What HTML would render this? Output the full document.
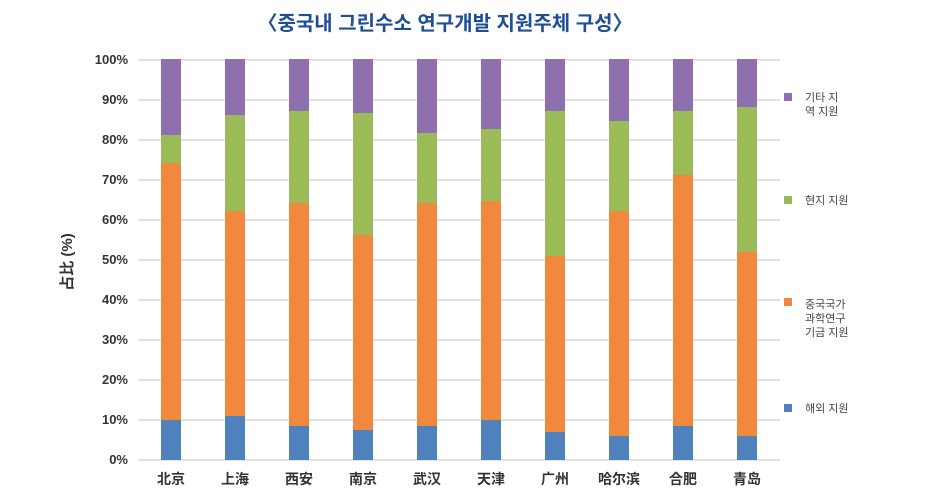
<!DOCTYPE html>
<html><head><meta charset="utf-8"><style>
html,body{margin:0;padding:0;background:#fff;width:943px;height:497px;overflow:hidden}
svg{display:block}
text{font-family:"Liberation Sans","Noto Sans CJK KR",sans-serif}
</style></head><body>
<svg width="943" height="497" viewBox="0 0 943 497">
<text x="445" y="30" text-anchor="middle" font-size="20" font-weight="bold" fill="#1f4e96" font-family="Liberation Sans, Noto Sans CJK KR, sans-serif">〈중국내 그린수소 연구개발 지원주체 구성〉</text>
<g stroke="#d9d9d9" stroke-width="1.5">
<line x1="138" y1="60" x2="780" y2="60"/><line x1="138" y1="100" x2="780" y2="100"/><line x1="138" y1="140" x2="780" y2="140"/><line x1="138" y1="180" x2="780" y2="180"/><line x1="138" y1="220" x2="780" y2="220"/><line x1="138" y1="260" x2="780" y2="260"/><line x1="138" y1="300" x2="780" y2="300"/><line x1="138" y1="340" x2="780" y2="340"/><line x1="138" y1="380" x2="780" y2="380"/><line x1="138" y1="420" x2="780" y2="420"/><line x1="138" y1="460" x2="780" y2="460"/>
</g>
<g font-size="13" font-weight="bold" fill="#333" text-anchor="end">
<text x="128" y="64">100%</text><text x="128" y="104">90%</text><text x="128" y="144">80%</text><text x="128" y="184">70%</text><text x="128" y="224">60%</text><text x="128" y="264">50%</text><text x="128" y="304">40%</text><text x="128" y="344">30%</text><text x="128" y="384">20%</text><text x="128" y="424">10%</text><text x="128" y="464">0%</text>
</g>
<text transform="translate(72,262) rotate(-90)" text-anchor="middle" font-size="15" font-weight="bold" fill="#333" font-family="Liberation Sans, Noto Sans CJK SC, sans-serif">占比 (%)</text>
<g>
<rect x="161" y="59" width="20" height="76" fill="#8e6fb0"/><rect x="161" y="135" width="20" height="28" fill="#9bbb59"/><rect x="161" y="163" width="20" height="257" fill="#f0883e"/><rect x="161" y="420" width="20" height="40" fill="#4f81bd"/>
<rect x="225" y="59" width="20" height="56" fill="#8e6fb0"/><rect x="225" y="115" width="20" height="96" fill="#9bbb59"/><rect x="225" y="211" width="20" height="205" fill="#f0883e"/><rect x="225" y="416" width="20" height="44" fill="#4f81bd"/>
<rect x="289" y="59" width="20" height="52" fill="#8e6fb0"/><rect x="289" y="111" width="20" height="92" fill="#9bbb59"/><rect x="289" y="203" width="20" height="223" fill="#f0883e"/><rect x="289" y="426" width="20" height="34" fill="#4f81bd"/>
<rect x="353" y="59" width="20" height="54" fill="#8e6fb0"/><rect x="353" y="113" width="20" height="122" fill="#9bbb59"/><rect x="353" y="235" width="20" height="195" fill="#f0883e"/><rect x="353" y="430" width="20" height="30" fill="#4f81bd"/>
<rect x="417" y="59" width="20" height="74" fill="#8e6fb0"/><rect x="417" y="133" width="20" height="70" fill="#9bbb59"/><rect x="417" y="203" width="20" height="223" fill="#f0883e"/><rect x="417" y="426" width="20" height="34" fill="#4f81bd"/>
<rect x="481" y="59" width="20" height="70" fill="#8e6fb0"/><rect x="481" y="129" width="20" height="72" fill="#9bbb59"/><rect x="481" y="201" width="20" height="219" fill="#f0883e"/><rect x="481" y="420" width="20" height="40" fill="#4f81bd"/>
<rect x="545" y="59" width="20" height="52" fill="#8e6fb0"/><rect x="545" y="111" width="20" height="145" fill="#9bbb59"/><rect x="545" y="256" width="20" height="176" fill="#f0883e"/><rect x="545" y="432" width="20" height="28" fill="#4f81bd"/>
<rect x="609" y="59" width="20" height="62" fill="#8e6fb0"/><rect x="609" y="121" width="20" height="90" fill="#9bbb59"/><rect x="609" y="211" width="20" height="225" fill="#f0883e"/><rect x="609" y="436" width="20" height="24" fill="#4f81bd"/>
<rect x="673" y="59" width="20" height="52" fill="#8e6fb0"/><rect x="673" y="111" width="20" height="64" fill="#9bbb59"/><rect x="673" y="175" width="20" height="251" fill="#f0883e"/><rect x="673" y="426" width="20" height="34" fill="#4f81bd"/>
<rect x="737" y="59" width="20" height="48" fill="#8e6fb0"/><rect x="737" y="107" width="20" height="145" fill="#9bbb59"/><rect x="737" y="252" width="20" height="184" fill="#f0883e"/><rect x="737" y="436" width="20" height="24" fill="#4f81bd"/>
</g>
<g font-size="14" font-weight="bold" fill="#333" text-anchor="middle" font-family="Liberation Sans, Noto Sans CJK SC, sans-serif">
<text x="171" y="484">北京</text><text x="235" y="484">上海</text><text x="299" y="484">西安</text><text x="363" y="484">南京</text><text x="427" y="484">武汉</text><text x="491" y="484">天津</text><text x="555" y="484">广州</text><text x="619" y="484">哈尔滨</text><text x="683" y="484">合肥</text><text x="747" y="484">青岛</text>
</g>
<g font-size="11" fill="#444">
<rect x="784" y="93" width="8" height="8" fill="#8e6fb0"/><text x="805" y="101">기타 지</text><text x="805" y="115">역 지원</text>
<rect x="784" y="196" width="8" height="8" fill="#9bbb59"/><text x="805" y="204">현지 지원</text>
<rect x="784" y="298" width="8" height="8" fill="#f0883e"/><text x="805" y="308">중국국가</text><text x="805" y="322">과학연구</text><text x="805" y="336">기금 지원</text>
<rect x="784" y="404" width="8" height="8" fill="#4f81bd"/><text x="805" y="412">해외 지원</text>
</g>
</svg>
</body></html>
